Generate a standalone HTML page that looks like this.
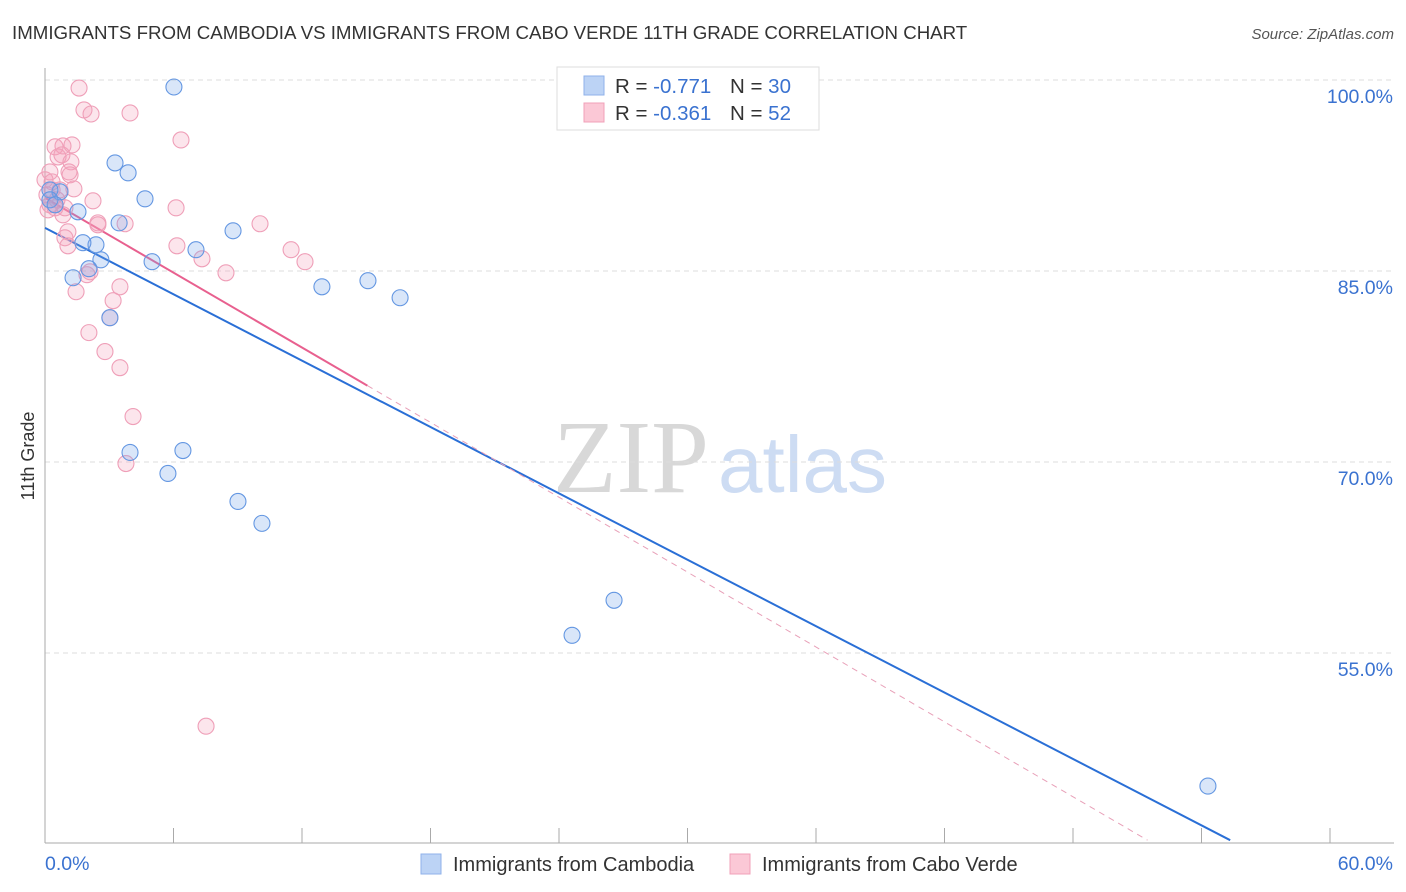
<!DOCTYPE html>
<html><head><meta charset="utf-8"><style>
body{margin:0;background:#fff;font-family:"Liberation Sans",sans-serif}
</style></head><body>
<svg id="chart" width="1406" height="892" xmlns="http://www.w3.org/2000/svg" style="display:block">
<text x="12" y="39" font-size="18.7" fill="#333">IMMIGRANTS FROM CAMBODIA VS IMMIGRANTS FROM CABO VERDE 11TH GRADE CORRELATION CHART</text>
<text x="1394" y="39" font-size="15" fill="#555" text-anchor="end" font-style="italic">Source: ZipAtlas.com</text>
<g>
<text x="553" y="492" font-size="104" fill="#d8d8d8" font-family="Liberation Serif,serif">ZIP</text>
<text x="718" y="492" font-size="80" fill="#cddcf3">atlas</text>
</g>
<g id="grid"></g>
<g id="axes"></g>
<g id="lines"></g>
<g id="points"></g>
<text transform="translate(34,456) rotate(-90)" font-size="18" fill="#333" text-anchor="middle">11th Grade</text>
<g>
<rect x="557" y="67" width="262" height="63" fill="#fff" stroke="#ddd"/>
<rect x="584" y="76" width="20" height="19" fill="#bcd3f5" stroke="#8fb2ea"/>
<rect x="584" y="103" width="20" height="19" fill="#fbc8d6" stroke="#f0a0b8"/>
<text x="615" y="93" font-size="20.5" fill="#333">R = <tspan fill="#3a72d0">-0.771</tspan><tspan x="730">N = </tspan><tspan fill="#3a72d0">30</tspan></text>
<text x="615" y="120" font-size="20.5" fill="#333">R = <tspan fill="#3a72d0">-0.361</tspan><tspan x="730">N = </tspan><tspan fill="#3a72d0"> 52</tspan></text>
</g>
<g>
<rect x="421" y="854" width="20" height="20" fill="#bcd3f5" stroke="#8fb2ea"/>
<text x="453" y="871" font-size="20" fill="#333">Immigrants from Cambodia</text>
<rect x="730" y="854" width="20" height="20" fill="#fbc8d6" stroke="#f0a0b8"/>
<text x="762" y="871" font-size="20" fill="#333">Immigrants from Cabo Verde</text>
</g>
</svg>
<script>
const blueX=[6.02,3.27,3.88,4.67,0.70,0.23,1.54,3.46,8.78,2.38,1.77,7.05,2.61,5.00,2.05,1.31,12.93,15.08,16.58,3.03,3.97,6.44,5.74,9.01,10.13,26.57,24.61,54.30,0.23,0.47];
const blueY=[99.45,93.49,92.71,90.67,91.22,91.37,89.65,88.78,88.16,87.06,87.22,86.67,85.88,85.73,85.18,84.47,83.76,84.24,82.90,81.33,70.75,70.90,69.10,66.90,65.18,59.14,56.39,44.55,90.59,90.20];
const pinkX=[1.59,1.82,2.15,3.97,6.35,0.47,0.84,1.26,0.61,0.79,1.21,1.12,1.17,0.23,0,1.35,0.33,0.70,2.24,0.23,0.47,0.93,6.12,2.47,3.74,10.04,1.07,0.93,6.16,11.49,1.07,7.33,12.14,2.10,1.96,8.45,1.45,3.50,3.18,3.03,2.05,2.80,3.50,4.11,3.78,7.52,2.47,0.09,0.14,0.56,0.84,0.33];
const pinkY=[99.37,97.65,97.33,97.41,95.29,94.75,94.82,94.90,93.96,94.12,93.57,92.78,92.55,92.78,92.16,91.45,91.37,91.37,90.51,90.20,89.96,89.96,89.96,88.78,88.71,88.71,88.08,87.61,86.98,86.67,86.98,85.96,85.73,84.94,84.71,84.86,83.37,83.76,82.67,81.33,80.16,78.67,77.41,73.57,69.88,49.25,88.63,90.98,89.80,90.59,89.41,92.00];
const yTicks=[100,85,70,55];
const yTickLabels=["100.0%","85.0%","70.0%","55.0%"];
const xTicks=[0,6,12,18,24,30,36,42,48,54,60];
const blueFit=[88.39,-0.869];
const pinkFit=[90.75,-0.980];
const pinkSolidEnd=15.05;
const NS="http://www.w3.org/2000/svg";
const sx=v=>45+v*(1285/60);
const sy=v=>80+(100-v)*(191/15);
function mk(tag,attrs,parent){const e=document.createElementNS(NS,tag);for(const k in attrs)e.setAttribute(k,attrs[k]);document.getElementById(parent).appendChild(e);return e;}
yTicks.forEach((t,i)=>{
 const g=mk('line',{x1:45,x2:1394,y1:sy(t),y2:sy(t),stroke:'#ddd','stroke-dasharray':'5,4'},'grid');
 
 
 const l=mk('text',{x:1393,y:sy(t)+23,'font-size':19.5,fill:'#3a72d0','text-anchor':'end'},'axes');
 l.textContent=yTickLabels[i];
 
 
});
const ax=mk('line',{x1:45,x2:45,y1:68,y2:843,stroke:'#aaa'},'axes');


const bx=mk('line',{x1:45,x2:1394,y1:843,y2:843,stroke:'#aaa'},'axes');


xTicks.forEach(t=>{
 const k=mk('line',{x1:sx(t),x2:sx(t),y1:828,y2:843,stroke:'#aaa'},'axes');
 
 
});
const x0=mk('text',{x:45,y:870,'font-size':19.5,fill:'#3a72d0'},'axes');x0.textContent='0.0%';


const x1=mk('text',{x:1393,y:870,'font-size':19.5,fill:'#3a72d0','text-anchor':'end'},'axes');x1.textContent='60.0%';


function drawPts(X,Y,fill,stroke,name){X.forEach((x,i)=>{const c=mk('circle',{cx:sx(x),cy:sy(Y[i]),r:8,fill:fill,stroke:stroke,'stroke-width':1.1},'points');
 
 });}
drawPts(pinkX,pinkY,'rgba(245,160,185,0.28)','#ef9fb8','point-cabo-verde');
drawPts(blueX,blueY,'rgba(120,165,235,0.28)','#6497e2','point-cambodia');
const xb=(40.3-blueFit[0])/blueFit[1];
const bl=mk('line',{x1:sx(0),y1:sy(blueFit[0]),x2:sx(xb),y2:sy(40.3),stroke:'#2a6fd6','stroke-width':2},'lines');


const xp=(40.3-pinkFit[0])/pinkFit[1];
const pd=mk('line',{x1:sx(pinkSolidEnd),y1:sy(pinkFit[0]+pinkFit[1]*pinkSolidEnd),x2:sx(xp),y2:sy(40.3),stroke:'#e8a0b8','stroke-width':1,'stroke-dasharray':'6,5'},'lines');


const pl=mk('line',{x1:sx(0),y1:sy(pinkFit[0]),x2:sx(pinkSolidEnd),y2:sy(pinkFit[0]+pinkFit[1]*pinkSolidEnd),stroke:'#e8608f','stroke-width':2},'lines');


</script>
</body></html>
